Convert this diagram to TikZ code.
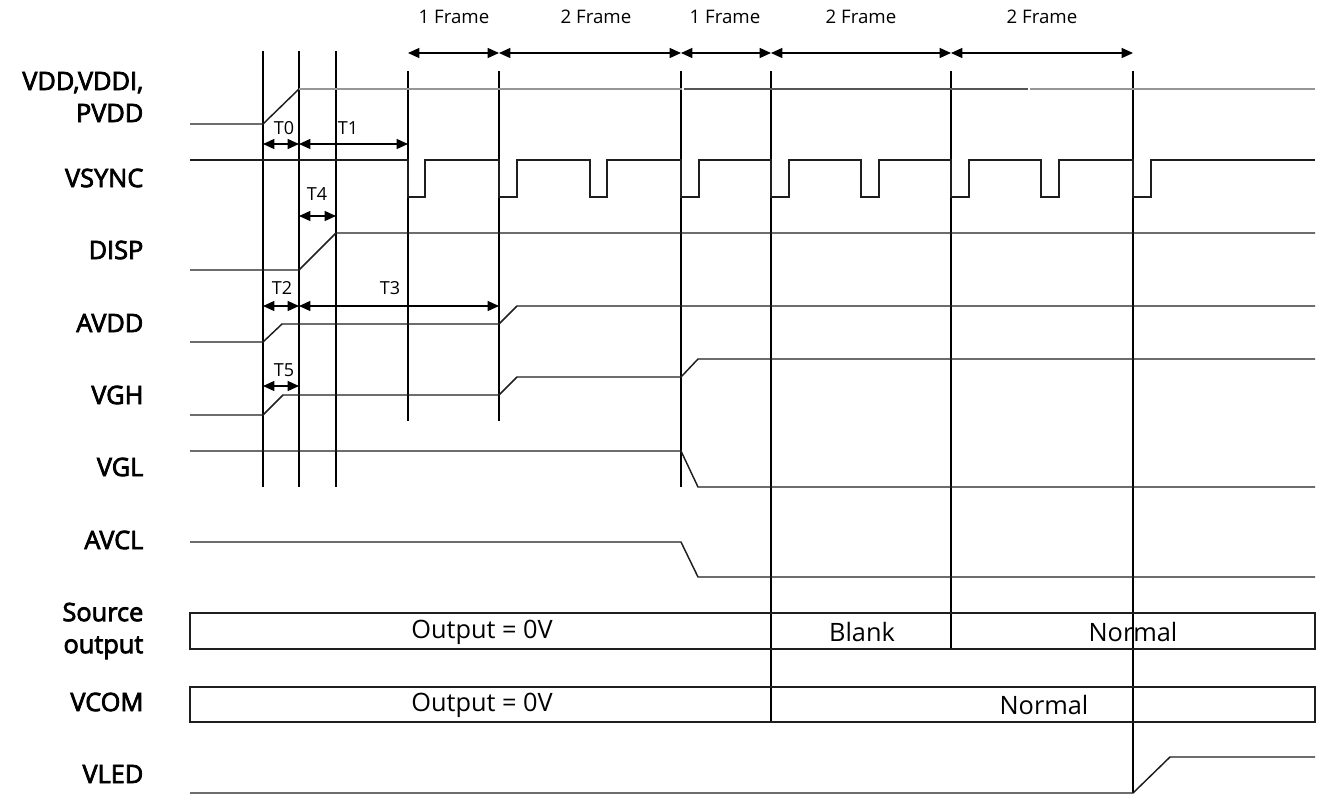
\documentclass[tikz,border=0pt]{standalone}
\usepackage{fontspec}
\setmainfont{Open Sans}
\newfontfamily\lblfont[FakeBold=3]{Open Sans}
\usetikzlibrary{arrows.meta}

\definecolor{wave}{RGB}{30,30,30}
\definecolor{vddgray}{RGB}{150,150,150}
\definecolor{vdddark}{RGB}{85,85,85}

\tikzset{every picture/.style={line width=1pt}}
\tikzset{
  sig/.style={color=wave, line width=1.1pt},
  guide/.style={color=black, line width=1pt},
  dimarrow/.style={color=black, line width=1pt, {Triangle[length=8.5pt,width=7.5pt]}-{Triangle[length=8.5pt,width=7.5pt]}},
  siglabel/.style={anchor=east, inner sep=0.75pt, align=right, font=\lblfont\fontsize{19}{24}\selectfont},
  boxtext/.style={inner sep=0.75pt, font=\fontsize{19}{23}\selectfont},
  tlabel/.style={inner sep=0.75pt, font=\fontsize{13.5}{16}\selectfont},
  framelabel/.style={inner sep=0.75pt, font=\fontsize{14}{17}\selectfont},
}

\begin{document}
\begin{tikzpicture}[x=0.75pt,y=0.75pt,yscale=-1,xscale=1]
\path[use as bounding box] (0,0) rectangle (1318,794);

%Guide Lines (power up)
\draw [guide] (263,51) -- (263,487) ;
\draw [guide] (299,51) -- (299,487) ;
\draw [guide] (336,51) -- (336,487) ;
%Guide Lines (frames)
\draw [guide] (408,71) -- (408,421) ;
\draw [guide] (499,71) -- (499,421) ;
\draw [guide] (681,71) -- (681,487) ;
\draw [guide] (771,71) -- (771,722) ;
\draw [guide] (951,71) -- (951,649) ;
\draw [guide] (1133,71) -- (1133,793) ;

%Frame marks
\coordinate (f0) at (408,53);
\coordinate (f1) at (499,53);
\coordinate (f2) at (681,53);
\coordinate (f3) at (771,53);
\coordinate (f4) at (951,53);
\coordinate (f5) at (1133,53);
\draw [dimarrow] (f0) -- (f1) ;
\draw [dimarrow] (f1) -- (f2) ;
\draw [dimarrow] (f2) -- (f3) ;
\draw [dimarrow] (f3) -- (f4) ;
\draw [dimarrow] (f4) -- (f5) ;

%Timing marks
\coordinate (t0a) at (263,144);
\coordinate (t0b) at (299,144);
\coordinate (t1b) at (408,144);
\coordinate (t4a) at (299,216);
\coordinate (t4b) at (336,216);
\coordinate (t2a) at (263,306);
\coordinate (t2b) at (299,306);
\coordinate (t3b) at (499,306);
\coordinate (t5a) at (263,386);
\coordinate (t5b) at (299,386);
\draw [dimarrow] (t0a) -- (t0b) ;
\draw [dimarrow] (t0b) -- (t1b) ;
\draw [dimarrow] (t4a) -- (t4b) ;
\draw [dimarrow] (t2a) -- (t2b) ;
\draw [dimarrow] (t2b) -- (t3b) ;
\draw [dimarrow] (t5a) -- (t5b) ;

%VDD,VDDI,PVDD
\draw [sig] (190,124) -- (263,124) -- (299,89) ;
\draw [sig, color=vddgray] (299,89) -- (682,89) ;
\draw [sig, color=vdddark] (684,89) -- (1028,89) ;
\draw [sig, color=vddgray] (1030,89) -- (1315,89) ;
%VSYNC
\draw [sig] (190,160) -- (408,160) -- (408,197) -- (425,197) -- (425,160) -- (499,160) -- (499,197) -- (517,197) -- (517,160) -- (590,160) -- (590,197) -- (607,197) -- (607,160) -- (681,160) -- (681,197) -- (699,197) -- (699,160) -- (771,160) -- (771,197) -- (789,197) -- (789,160) -- (861,160) -- (861,197) -- (879,197) -- (879,160) -- (951,160) -- (951,197) -- (969,197) -- (969,160) -- (1041,160) -- (1041,197) -- (1059,197) -- (1059,160) -- (1133,160) -- (1133,197) -- (1151,197) -- (1151,160) -- (1315,160) ;
%DISP
\draw [sig] (190,270) -- (299,270) -- (336,233) -- (1315,233) ;
%AVDD
\draw [sig] (190,342) -- (263,342) -- (282,324) -- (499,324) -- (517,306) -- (1315,306) ;
%VGH
\draw [sig] (190,415) -- (263,415) -- (283,395) -- (499,395) -- (517,377) -- (681,377) -- (698,359) -- (1315,359) ;
%VGL
\draw [sig] (190,451) -- (681,451) -- (698,487) -- (1315,487) ;
%AVCL
\draw [sig] (190,542) -- (681,542) -- (698,577) -- (1315,577) ;
%Source output
\draw [sig] (190,613) rectangle (1315,649) ;
%VCOM
\draw [sig] (190,687) rectangle (1315,722) ;
%VLED
\draw [sig] (190,793) -- (1133,793) -- (1170,757) -- (1315,757) ;

% Text Node
\node [siglabel] (lvdd) at (145,97) {VDD,VDDI,\\PVDD};
\node [siglabel] (lvsync) at (145,178) {VSYNC};
\node [siglabel] (ldisp) at (145,250) {DISP};
\node [siglabel] (lavdd) at (145,323) {AVDD};
\node [siglabel] (lvgh) at (145,395) {VGH};
\node [siglabel] (lvgl) at (145,467) {VGL};
\node [siglabel] (lavcl) at (145,540) {AVCL};
\node [siglabel] (lsrc) at (145,631) {Source\\output};
\node [siglabel] (lvcom) at (145,702) {VCOM};
\node [siglabel] (lvled) at (145,774) {VLED};
% Text Node
\node [framelabel] (fr1) at (454,17) {1 Frame};
\node [framelabel] (fr2) at (596,17) {2 Frame};
\node [framelabel] (fr3) at (725,17) {1 Frame};
\node [framelabel] (fr4) at (861,17) {2 Frame};
\node [framelabel] (fr5) at (1042,17) {2 Frame};
% Text Node
\node [tlabel] (lt0) at (284,128) {T0};
\node [tlabel] (lt1) at (348,128) {T1};
\node [tlabel] (lt4) at (317,194) {T4};
\node [tlabel] (lt2) at (282,288) {T2};
\node [tlabel] (lt3) at (390,288) {T3};
\node [tlabel] (lt5) at (284,370) {T5};
% Text Node
\node [boxtext] (srcoff) at (482,632) {Output = 0V};
\node [boxtext] (srcblank) at (862,632) {Blank};
\node [boxtext] (srcnorm) at (1133,632) {Normal};
\node [boxtext] (vcomoff) at (482,705) {Output = 0V};
\node [boxtext] (vcomnorm) at (1044,705) {Normal};

\end{tikzpicture}
\end{document}
